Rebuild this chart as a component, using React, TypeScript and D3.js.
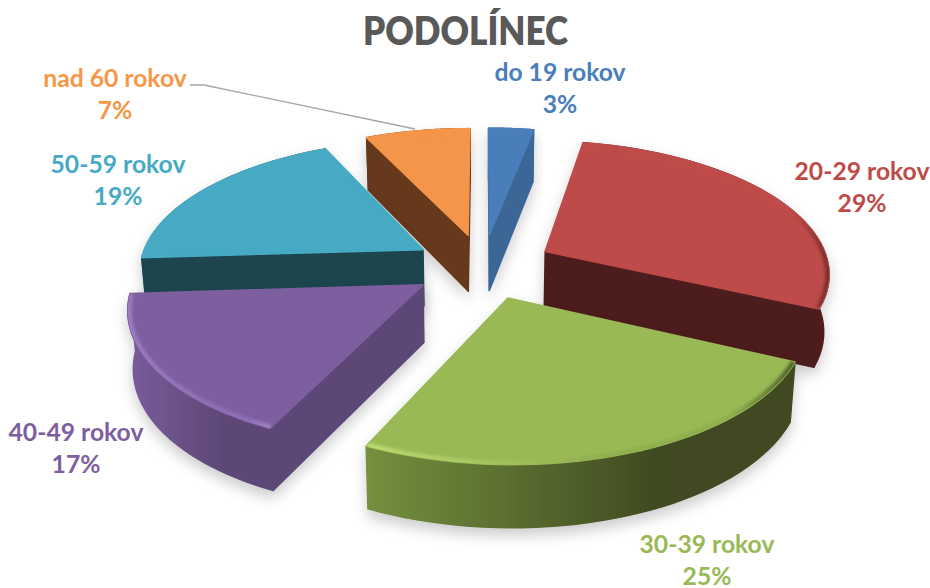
import React from "react";
import * as d3 from "d3";

const title = "PODOLÍNEC";
const categories = ["do 19 rokov", "20-29 rokov", "30-39 rokov", "40-49 rokov", "50-59 rokov", "nad 60 rokov"];
const values = [3, 29, 25, 17, 19, 7];
const percentLabels = ["3%", "29%", "25%", "17%", "19%", "7%"];
const topColors = ["#4a7ebb", "#be4b48", "#98b954", "#7d5fa0", "#46aac5", "#f5954a"];
const wallColors = ["#3b6696", "#4e1e1e", "#3f4a20", "#5c4776", "#1e444e", "#66391a"];
const rimLeftColors = ["#3b6696", "#4e1e1e", "#74903f", "#7a5c9c", "#2f7e93", "#66391a"];
const bevelStart = ["#4a7ebb", "#be4b48", "#bcdc70", "#9a7cc0", "#46aac5", "#f5954a"];
const bevelMid = ["#4a7ebb", "#be4b48", "#8fae4e", "#8f70b4", "#46aac5", "#f5954a"];
const bevelEnd = ["#4a7ebb", "#7a2e2c", "#4f5f2a", "#a084c4", "#46aac5", "#f5954a"];
const labelColors = ["#4a7ebb", "#be4b48", "#98b954", "#7d5fa0", "#46aac5", "#f79646"];

const W = 930, H = 588;
const CX = 483, CY = 266, RX = 284, RY = 131, PERSP = 0.15, EXPLODE = 0.25, DEPTH = 57;
const drawOrder = [0, 5, 4, 1, 3, 2];
const labelPos: [number, number][] = [[560, 81], [862, 180], [707, 553], [76, 441], [118, 173], [115, 87]];
const LINE = 32;

type P = [number, number];
const sx = d3.scaleLinear().domain([0, 1]).range([CX, CX + RX]);
const sy = d3.scaleLinear().domain([0, 1]).range([CY, CY - RY]);
const project = (X: number, Y: number, drop = 0): P => {
  const s = 1 / (1 + PERSP * Y);
  return [sx(X * s * (1 - drop * 0.00027)), sy(Y * s) + drop * Math.sqrt(s)];
};
const line = d3.line<P>();
const pie = d3.pie<number>().sort(null).startAngle(0).endAngle(2 * Math.PI);
const arcs = pie(values);

function geometry(i: number) {
  const a = arcs[i];
  const m = (a.startAngle + a.endAngle) / 2;
  const ox = EXPLODE * Math.sin(m), oy = EXPLODE * Math.cos(m);
  const angles = d3.range(0, 41).map(k => a.startAngle + ((a.endAngle - a.startAngle) * k) / 40);
  const rim = angles.map(t => project(ox + Math.sin(t), oy + Math.cos(t)));
  const rimLow = angles.map(t => project(ox + Math.sin(t), oy + Math.cos(t), DEPTH));
  const apex = project(ox, oy), apexLow = project(ox, oy, DEPTH);
  const mid = rim[20];
  const faces = (p: P) => {
    const c1 = (p[0] - apex[0]) * (mid[1] - apex[1]) - (p[1] - apex[1]) * (mid[0] - apex[0]);
    const c2 = p[0] - apex[0];
    return c1 * c2 < 0;
  };
  const walls: P[][] = [];
  if (faces(rim[0])) walls.push([apex, rim[0], rimLow[0], apexLow]);
  if (faces(rim[40])) walls.push([apex, rim[40], rimLow[40], apexLow]);
  return { rim, rimLow, apex, walls };
}

export default function App() {
  return (
    <svg width={W} height={H} viewBox={`0 0 ${W} ${H}`} style={{ position: "absolute", left: 0, top: 0, background: "#fff" }}>
      <defs>
        <filter id="shadow" x="-20%" y="-20%" width="140%" height="140%">
          <feDropShadow dx="0" dy="7" stdDeviation="7" floodColor="#000" floodOpacity="0.2" />
        </filter>
        <filter id="soft" x="-5%" y="-5%" width="110%" height="110%">
          <feGaussianBlur stdDeviation="1.4" />
        </filter>
        {categories.map((_, i) => {
          const g = geometry(i);
          const xs = g.rim.map(p => p[0]);
          const x0 = d3.min(xs)!, x1 = d3.max(xs)!;
          return (
            <React.Fragment key={i}>
              <linearGradient id={`rim${i}`} gradientUnits="userSpaceOnUse" x1={x0} x2={x1} y1={0} y2={0}>
                <stop offset="0" stopColor={rimLeftColors[i]} />
                <stop offset="0.68" stopColor={wallColors[i]} />
                <stop offset="1" stopColor={wallColors[i]} />
              </linearGradient>
              <linearGradient id={`bevel${i}`} gradientUnits="userSpaceOnUse" x1={x0} x2={x1} y1={0} y2={0}>
                <stop offset="0" stopColor={bevelStart[i]} />
                <stop offset="0.55" stopColor={bevelMid[i]} />
                <stop offset="0.85" stopColor={bevelMid[i]} />
                <stop offset="1" stopColor={bevelEnd[i]} />
              </linearGradient>
              <clipPath id={`clip${i}`}>
                <path d={(line([g.apex, ...g.rim]) ?? "") + "Z"} />
              </clipPath>
            </React.Fragment>
          );
        })}
      </defs>
      <text x={465.5} y={45} textAnchor="middle" textLength={205} lengthAdjust="spacingAndGlyphs" fontFamily="Lato, 'Open Sans', sans-serif" fontWeight={800} fontSize={39} fill="#595959">{title}</text>
      {drawOrder.map(i => {
        const g = geometry(i);
        const frontStrip = [...g.rim, ...[...g.rimLow].reverse()];
        return (
          <g key={i}>
            <g filter="url(#shadow)">
              <path d={(line(frontStrip) ?? "") + "Z"} fill={`url(#rim${i})`} stroke={`url(#rim${i})`} strokeWidth={1.5} strokeLinejoin="round" />
              {g.walls.map((w, k) => (
                <path key={k} d={(line(w) ?? "") + "Z"} fill={wallColors[i]} stroke={wallColors[i]} strokeWidth={1.5} strokeLinejoin="round" />
              ))}
              <path d={(line([g.apex, ...g.rim]) ?? "") + "Z"} fill={topColors[i]} stroke={topColors[i]} strokeWidth={1.6} strokeLinejoin="round" />
            </g>
            <g clipPath={`url(#clip${i})`}>
              <path d={line(g.rim) ?? ""} fill="none" stroke={`url(#bevel${i})`} strokeWidth={8} filter="url(#soft)" />
            </g>
          </g>
        );
      })}
      <polyline points="190,85 204,85 415,129" fill="none" stroke="#a6a6a6" strokeWidth={1.3} />
      {categories.map((c, i) => (
        <text key={c} x={labelPos[i][0]} y={labelPos[i][1]} textAnchor="middle" fontFamily="Lato, 'Open Sans', sans-serif" fontWeight={700} fontSize={24.7} fill={labelColors[i]}>
          <tspan x={labelPos[i][0]}>{c}</tspan>
          <tspan x={labelPos[i][0]} dy={LINE}>{percentLabels[i]}</tspan>
        </text>
      ))}
    </svg>
  );
}
